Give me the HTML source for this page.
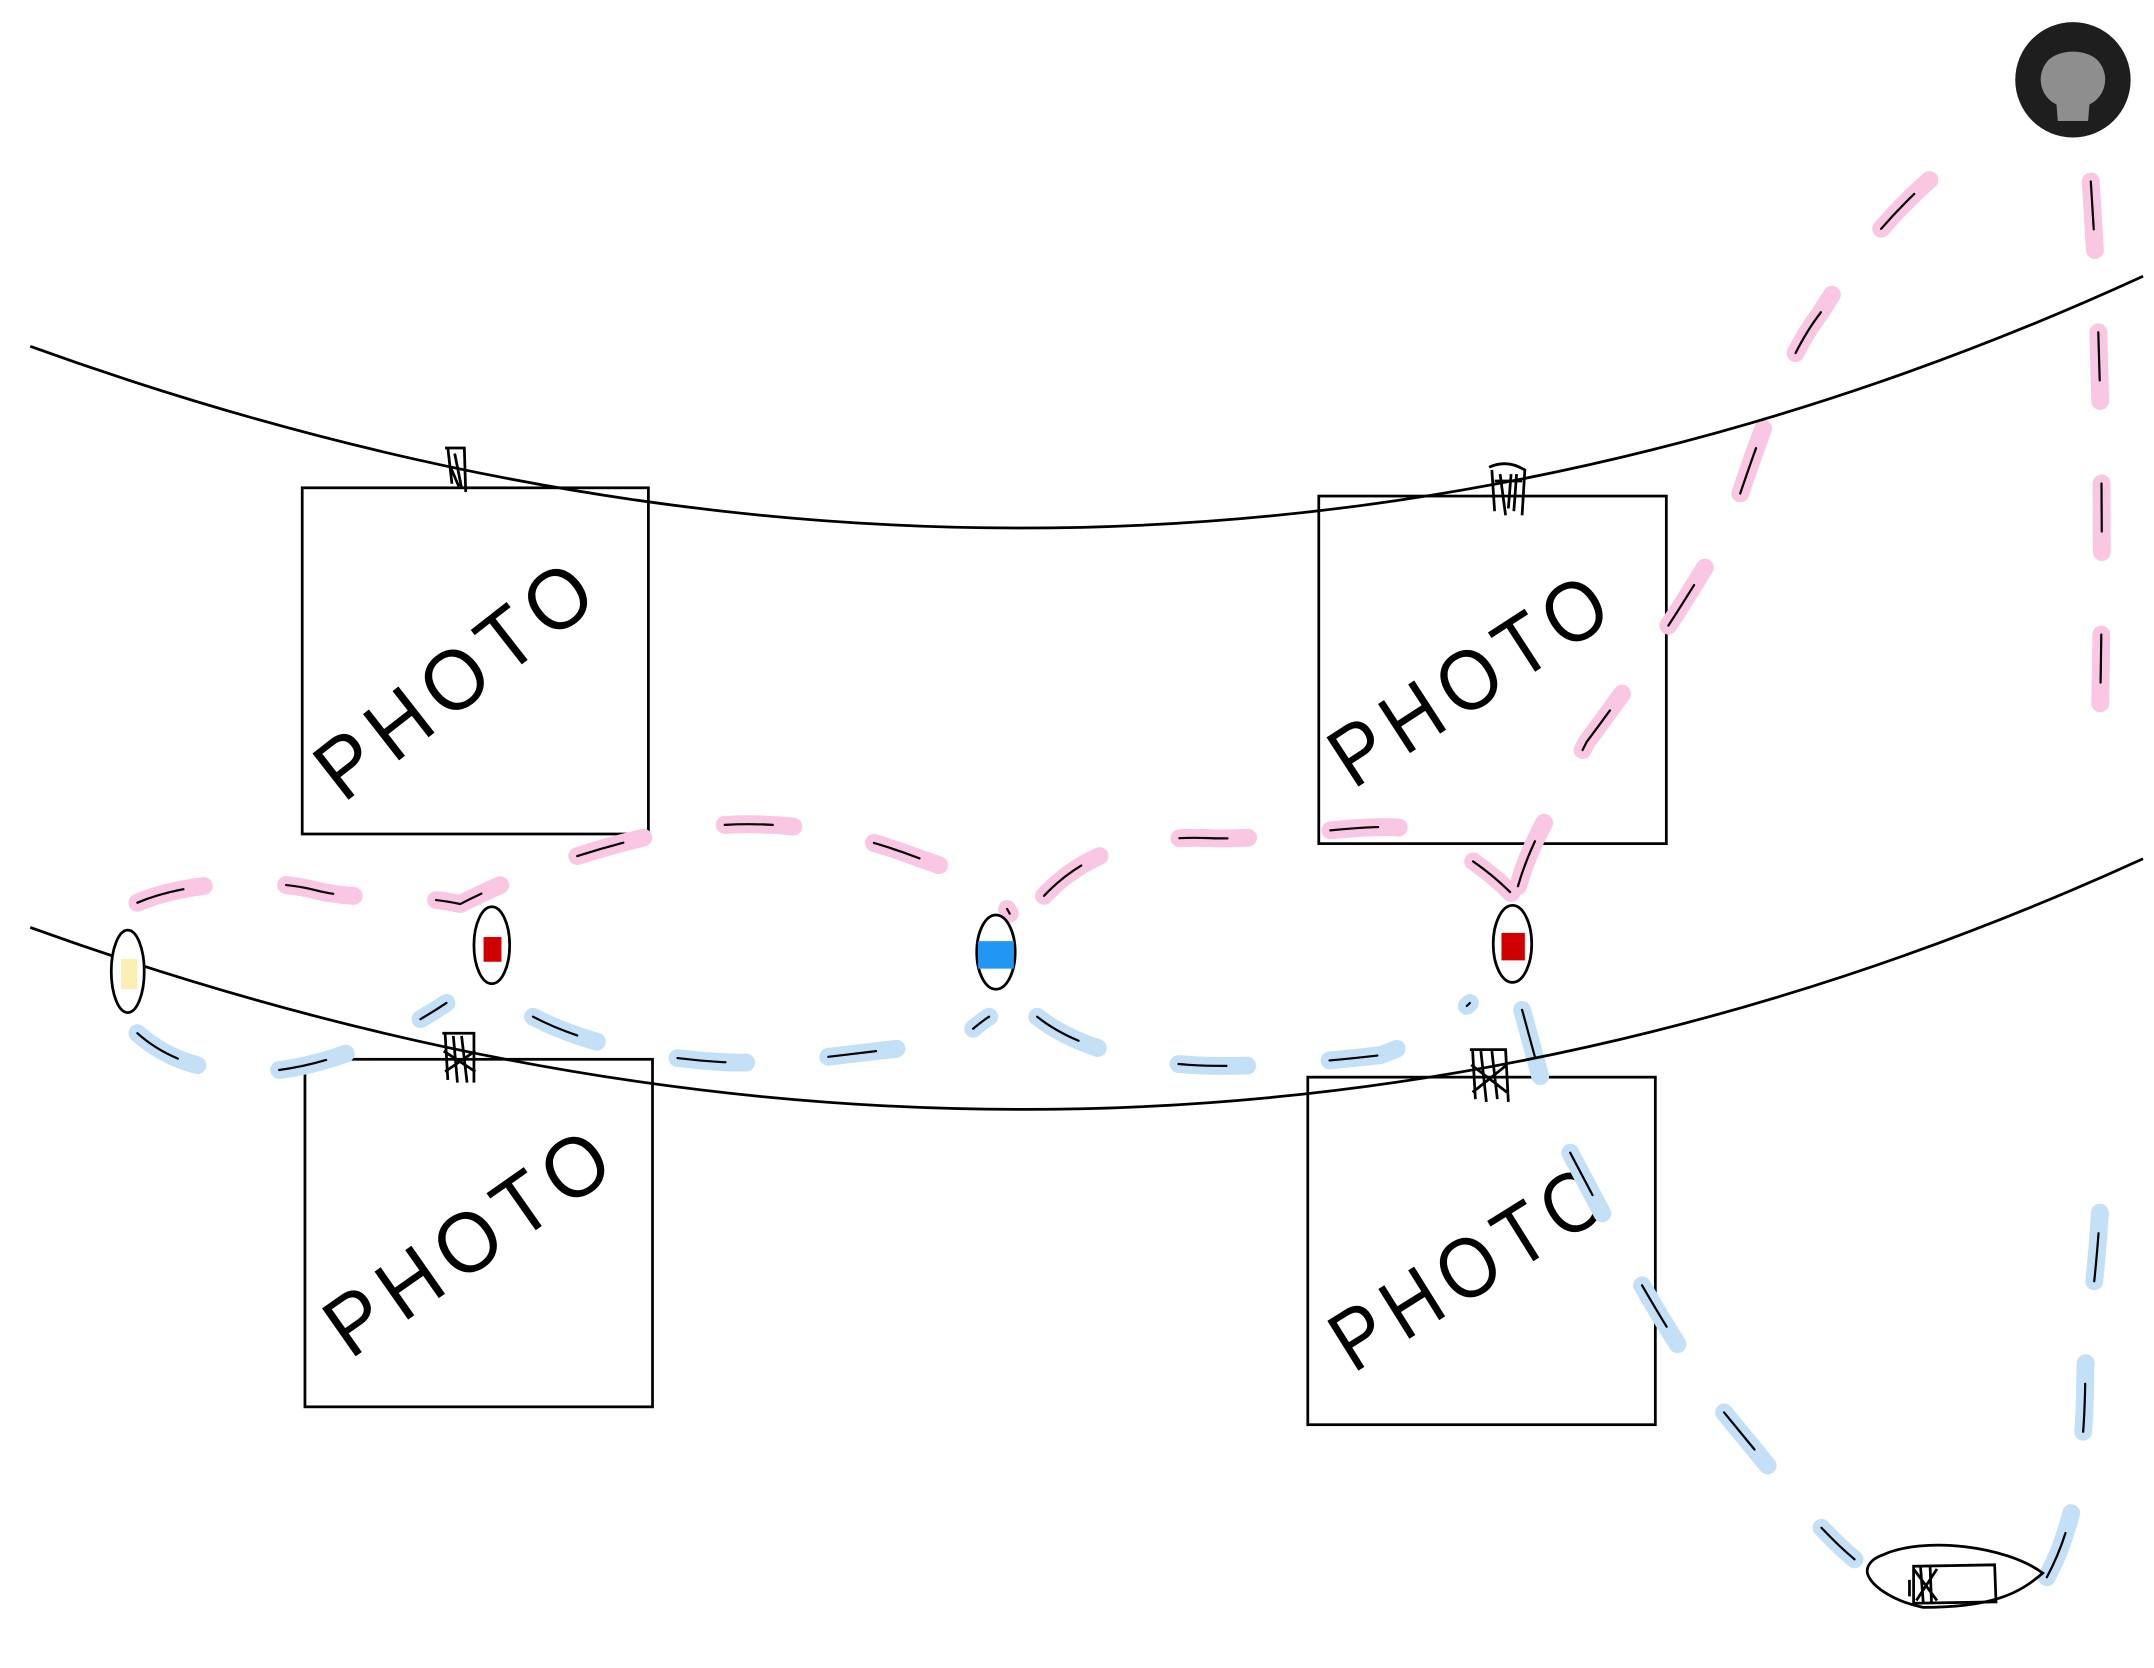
<!DOCTYPE html>
<html><head><meta charset="utf-8"><style>
html,body{margin:0;padding:0;background:#fff;}
svg{display:block;}
</style></head><body>
<svg width="2154" height="1668" viewBox="0 0 1568 1214" xmlns="http://www.w3.org/2000/svg">
<rect width="1568" height="1214" fill="#fff"/>
<!-- photos -->
<g fill="none" stroke="#000" stroke-width="2">
 <rect x="220" y="355" width="252" height="252"/>
 <rect x="960" y="361" width="253" height="253"/>
 <rect x="222" y="771" width="253" height="253"/>
 <rect x="952" y="784" width="253" height="253"/>
</g>
<g font-family="Liberation Sans, sans-serif" font-size="62" fill="#000" font-weight="normal" letter-spacing="8">
 <text x="250" y="585" transform="rotate(-38 250 585)" textLength="245" lengthAdjust="spacingAndGlyphs">PHOTO</text>
 <text x="985" y="575" transform="rotate(-33 985 575)" textLength="235" lengthAdjust="spacingAndGlyphs">PHOTO</text>
 <text x="255" y="990" transform="rotate(-35 255 990)" textLength="245" lengthAdjust="spacingAndGlyphs">PHOTO</text>
 <text x="985" y="1000" transform="rotate(-32 985 1000)" textLength="230" lengthAdjust="spacingAndGlyphs">PHOTO</text>
</g>
<!-- pink dashed paths -->
<g fill="none" stroke-linecap="round" stroke-linejoin="round">
 <g stroke="#f9c6e3" stroke-width="13" stroke-dasharray="50 60">
  <path d="M100,657 C140,640 200,640 230,648 S300,650 335,658 C370,640 420,620 480,607 S600,598 670,625 C700,635 725,645 735,665"/>
  <path d="M760,652 C790,620 830,608 880,610 S990,598 1025,603 C1060,615 1085,635 1100,650"/>
  <path d="M1105,645 C1115,610 1130,590 1155,540 C1200,480 1225,440 1258,385 C1280,320 1300,260 1325,228 C1360,170 1400,130 1440,104"/>
  <path d="M1522,132 C1530,250 1532,400 1528,545"/>
 </g>
 <g stroke="#000" stroke-width="1.6" stroke-dasharray="35 75">
  <path d="M100,657 C140,640 200,640 230,648 S300,650 335,658 C370,640 420,620 480,607 S600,598 670,625 C700,635 725,645 735,665"/>
  <path d="M760,652 C790,620 830,608 880,610 S990,598 1025,603 C1060,615 1085,635 1100,650"/>
  <path d="M1105,645 C1115,610 1130,590 1155,540 C1200,480 1225,440 1258,385 C1280,320 1300,260 1325,228 C1360,170 1400,130 1440,104"/>
  <path d="M1522,132 C1530,250 1532,400 1528,545"/>
 </g>
</g>
<!-- blue dashed paths -->
<g fill="none" stroke-linecap="round" stroke-linejoin="round">
 <g stroke="#c3e0f7" stroke-width="13" stroke-dasharray="50 60">
  <path d="M100,752 C120,770 150,782 190,780 S280,760 325,730"/>
  <path d="M388,740 C420,757 470,770 525,773 S640,762 695,760 C705,752 712,745 720,740"/>
  <path d="M755,740 C780,760 820,772 865,775 S970,772 1005,768 C1040,755 1060,740 1070,730"/>
  <path d="M1108,735 C1115,760 1125,800 1133,820 C1170,890 1200,950 1250,1022 C1290,1070 1320,1110 1350,1135"/>
  <path d="M1490,1148 C1505,1120 1518,1080 1518,995 C1522,950 1530,900 1530,835"/>
 </g>
 <g stroke="#000" stroke-width="1.6" stroke-dasharray="35 75">
  <path d="M100,752 C120,770 150,782 190,780 S280,760 325,730"/>
  <path d="M388,740 C420,757 470,770 525,773 S640,762 695,760 C705,752 712,745 720,740"/>
  <path d="M755,740 C780,760 820,772 865,775 S970,772 1005,768 C1040,755 1060,740 1070,730"/>
  <path d="M1108,735 C1115,760 1125,800 1133,820 C1170,890 1200,950 1250,1022 C1290,1070 1320,1110 1350,1135"/>
  <path d="M1490,1148 C1505,1120 1518,1080 1518,995 C1522,950 1530,900 1530,835"/>
 </g>
</g>
<!-- strings -->
<path d="M22,252 Q820,540 1560,201" fill="none" stroke="#000" stroke-width="2"/>
<path d="M22,675 Q820,963 1560,625" fill="none" stroke="#000" stroke-width="2"/>
<!-- clips -->
<g fill="none" stroke="#000" stroke-width="2">
 <path d="M324,326 L338,326 L339,358 M326,326 L329,352 M331,330 L336,355 M328,340 L334,354"/>
 <path d="M1084,340 Q1097,334 1110,342 L1108,375 M1086,342 L1088,372 M1092,345 L1096,375 M1100,345 L1098,370 M1104,345 L1102,372 M1088,350 L1108,350"/>
 <path d="M322,752 L345,752 L345,788 M324,752 L326,786 M330,754 L333,788 M336,754 L340,788 M323,765 L346,780 M346,765 L324,780"/>
 <path d="M1070,764 L1096,764 L1098,802 M1072,765 L1074,800 M1078,765 L1082,802 M1086,765 L1090,800 M1071,775 L1097,795 M1097,775 L1072,795"/>
</g>
<!-- ovals -->
<g stroke="#000" stroke-width="2">
 <ellipse cx="93" cy="707" rx="12" ry="30" fill="#fff"/>
 <rect x="88" y="698" width="12" height="22" fill="#fbefb4" stroke="none"/>
 <ellipse cx="358" cy="688" rx="13" ry="28" fill="#fff"/>
 <rect x="352" y="682" width="13" height="18" fill="#d00000" stroke="none"/>
 <ellipse cx="725" cy="693" rx="14" ry="27" fill="#fff"/>
 <rect x="712" y="685" width="26" height="20" fill="#2196f3" stroke="none"/>
 <ellipse cx="1101" cy="687" rx="14" ry="28" fill="#fff"/>
 <rect x="1093" y="679" width="17" height="20" fill="#d00000" stroke="none"/>
</g>
<!-- avatar -->
<g>
 <circle cx="1509" cy="58" r="42" fill="#1e1e1e"/>
 <path d="M1498,88 L1497,76 C1485,70 1482,55 1490,45 C1498,35 1520,35 1528,45 C1536,55 1533,70 1521,76 L1520,88 Z" fill="#8e8e8e"/>
</g>
<!-- eye target bottom right -->
<g fill="none" stroke="#000" stroke-width="2">
 <path d="M1370,1132 C1400,1118 1460,1125 1487,1145 C1470,1160 1450,1170 1400,1170 C1375,1165 1355,1150 1360,1140 C1362,1136 1365,1134 1370,1132 Z" fill="#fff"/>
 <path d="M1393,1140 L1452,1139 L1453,1166 L1393,1167 Z"/>
 <path d="M1393,1142 L1410,1165 M1410,1142 L1395,1165 M1398,1140 L1400,1166 M1405,1140 L1406,1166 M1390,1150 L1390,1162"/>
</g>
</svg>
</body></html>
